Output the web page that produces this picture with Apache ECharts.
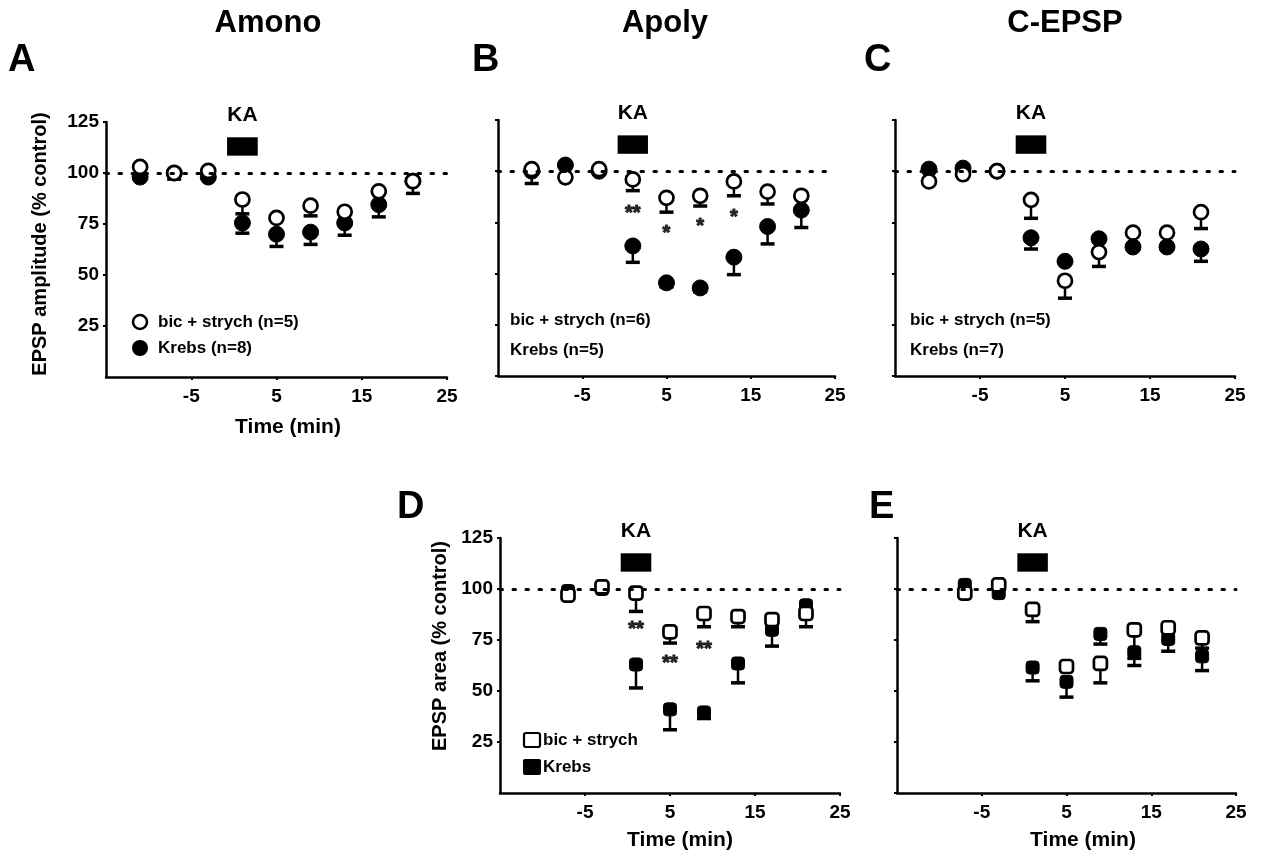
<!DOCTYPE html>
<html>
<head>
<meta charset="utf-8">
<script src="https://cdn.jsdelivr.net/npm/echarts@6/dist/echarts.min.js"></script>
<style>
  html, body { margin: 0; padding: 0; background: #fff; }
  #chart { width: 1263px; height: 862px; }
</style>
</head>
<body>
<div id="chart"></div>
<script>
// time points (min)
const timesABC = [-11, -7, -3, 1, 5, 9, 13, 17, 21];
const timesDE = [-7, -3, 1, 5, 9, 13, 17, 21];

const xTicks = [-15, 25, 10];   // min, max, interval
const yTicks = [0, 125, 25];

// KA application bar
const kaTime = [-0.8, 2.8];
const kaLevel = [108.5, 117.5];

// A  Amono  EPSP amplitude
const aBic = [103, 100, 101, 87, 78, 84, 81, 91, 96];
const aBicErr = [0, 3, 0, 7, 0, 5, 0, 0, 6];
const aKrebs = [98, 100, 98, 75.5, 70, 71, 75.5, 84.5, 96];
const aKrebsErr = [0, 0, 0, 5, 6, 6, 6, 6, 0];

// B  Apoly  EPSP amplitude
const bBic = [101, 97, 101, 96, 87, 88, 95, 90, 88];
const bBicErr = [0, 0, 0, 5.5, 7, 5, 7, 6, 0];
const bKrebs = [100, 103, 100, 63.5, 45.5, 43, 58, 73, 81];
const bKrebsErr = [6, 0, 0, 8, 2, 2, 8.5, 8.5, 8.5];
const bSigTimes = [1, 5, 9, 13];
const bSigText = ['**', '*', '*', '*'];
const bSigY = [82, 72, 75.5, 80];

// C  C-EPSP  EPSP amplitude
const cBic = [95, 98.5, 100, 86, 46.5, 60.5, 70, 70, 80];
const cBicErr = [0, 0, 0, 9, 8.5, 7, 0, 0, 8];
const cKrebs = [101, 101.5, 100, 67.5, 56, 67, 63, 63, 62];
const cKrebsErr = [0, 0, 0, 5.5, 0, 0, 0, 0, 6];

// D  Apoly  EPSP area
const dBic = [97, 101, 98, 79, 88, 86.5, 85, 88];
const dBicErr = [0, 0, 9, 5.5, 6.5, 5, 0, 6.5];
const dKrebs = [99, 100, 63, 41, 39.5, 63.5, 80, 92];
const dKrebsErr = [0, 0, 11.5, 10, 3, 9.5, 8, 0];
const dSigTimes = [1, 5, 9];
const dSigText = ['**', '**', '**'];
const dSigY = [82.5, 66, 73];

// E  C-EPSP  EPSP area
const eBic = [98, 102, 90, 62, 63.5, 80, 81, 76];
const eBicErr = [0, 0, 6, 0, 9.5, 14, 0, 5];
const eKrebs = [102, 98, 61.5, 54.5, 78, 69, 75.5, 67];
const eKrebsErr = [0, 0, 6.5, 7.5, 5, 6.5, 6, 7];

const FONT = 'Liberation Sans, Arial, sans-serif';

const chart = echarts.init(document.getElementById('chart'));

const grids = [
  { left: 106, top: 122, width: 341, height: 255 },
  { left: 498, top: 120, width: 337, height: 256 },
  { left: 895, top: 120, width: 340, height: 256 },
  { left: 500, top: 538, width: 340, height: 255 },
  { left: 897, top: 538, width: 339, height: 255 }
];
const yLabelled = [true, false, false, true, false];

function errorBars(i, times, mean, err, z) {
  return {
    type: 'custom',
    xAxisIndex: i,
    yAxisIndex: i,
    z: z,
    silent: true,
    data: times.map((t, k) => [t, mean[k], err[k]]),
    renderItem: (params, api) => {
      const e = api.value(2);
      if (!e) return { type: 'group', children: [] };
      const top = api.coord([api.value(0), api.value(1)]);
      const bot = api.coord([api.value(0), api.value(1) - e]);
      return {
        type: 'group',
        children: [
          { type: 'line', shape: { x1: top[0], y1: top[1], x2: bot[0], y2: bot[1] },
            style: { stroke: '#000', lineWidth: 2.5 } },
          { type: 'line', shape: { x1: bot[0] - 7, y1: bot[1], x2: bot[0] + 7, y2: bot[1] },
            style: { stroke: '#000', lineWidth: 3.5 } }
        ]
      };
    }
  };
}

function points(i, times, mean, open, shape, z) {
  return {
    type: 'scatter',
    xAxisIndex: i,
    yAxisIndex: i,
    z: z,
    symbol: shape,
    symbolSize: shape === 'circle' ? (open ? 14 : 16) : 13,
    itemStyle: open
      ? { color: '#fff', borderColor: '#000', borderWidth: 2.7, opacity: 1 }
      : { color: '#000', borderColor: '#000', borderWidth: 1, opacity: 1 },
    data: times.map((t, k) => [t, mean[k]])
  };
}

function stars(i, times, ys, texts) {
  return {
    type: 'scatter',
    xAxisIndex: i,
    yAxisIndex: i,
    symbolSize: 0,
    z: 5,
    label: {
      show: true,
      position: 'inside',
      formatter: p => p.name,
      fontFamily: FONT,
      fontWeight: 'bold',
      fontSize: 20,
      color: '#000',
      textBorderColor: '#000',
      textBorderWidth: 1,
      offset: [0, 5]
    },
    data: times.map((t, k) => ({ name: texts[k], value: [t, ys[k]] }))
  };
}

function baseline(i) {
  // dotted 100 % line and KA bar, carried on an empty series
  return {
    type: 'scatter',
    xAxisIndex: i,
    yAxisIndex: i,
    data: [],
    markLine: {
      silent: true,
      symbol: 'none',
      label: { show: false },
      lineStyle: { color: '#000', type: [2.5, 10.5], width: 3, cap: 'round' },
      data: [{ yAxis: 100 }]
    },
    markArea: {
      silent: true,
      itemStyle: { color: '#000' },
      label: {
        show: true,
        position: 'top',
        distance: 12,
        formatter: 'KA',
        fontFamily: FONT,
        fontWeight: 'bold',
        fontSize: 21,
        color: '#000'
      },
      data: [[{ coord: [kaTime[0], kaLevel[0]] }, { coord: [kaTime[1], kaLevel[1]] }]]
    }
  };
}

const panels = [
  [timesABC, aBic, aBicErr, aKrebs, aKrebsErr, 'circle'],
  [timesABC, bBic, bBicErr, bKrebs, bKrebsErr, 'circle'],
  [timesABC, cBic, cBicErr, cKrebs, cKrebsErr, 'circle'],
  [timesDE, dBic, dBicErr, dKrebs, dKrebsErr, 'roundRect'],
  [timesDE, eBic, eBicErr, eKrebs, eKrebsErr, 'roundRect']
];

const series = [];
panels.forEach((p, i) => {
  const [t, bic, bicErr, krebs, krebsErr, shape] = p;
  series.push(baseline(i));
  series.push(errorBars(i, t, krebs, krebsErr, 2));
  series.push(errorBars(i, t, bic, bicErr, 2));
  series.push(points(i, t, krebs, false, shape, 3));
  series.push(points(i, t, bic, true, shape, 4));
});
series.push(stars(1, bSigTimes, bSigY, bSigText));
series.push(stars(3, dSigTimes, dSigY, dSigText));

const xAxes = grids.map((g, i) => ({
  type: 'value',
  gridIndex: i,
  min: xTicks[0],
  max: xTicks[1],
  interval: xTicks[2],
  axisLine: { show: true, onZero: false, lineStyle: { color: '#000', width: 2.5 } },
  axisTick: { show: true, length: 3, lineStyle: { color: '#000', width: 2 } },
  axisLabel: {
    showMinLabel: false,
    margin: 10,
    color: '#000',
    fontFamily: FONT,
    fontWeight: 'bold',
    fontSize: 19
  },
  splitLine: { show: false }
}));

const yAxes = grids.map((g, i) => ({
  type: 'value',
  gridIndex: i,
  min: yTicks[0],
  max: yTicks[1],
  interval: yTicks[2],
  axisLine: { show: true, onZero: false, lineStyle: { color: '#000', width: 2.5 } },
  axisTick: { show: true, length: 3, lineStyle: { color: '#000', width: 2 } },
  axisLabel: {
    show: yLabelled[i],
    showMinLabel: false,
    margin: 7,
    color: '#000',
    fontFamily: FONT,
    fontWeight: 'bold',
    fontSize: 19
  },
  splitLine: { show: false }
}));

function txt(text, x, y, size, extra) {
  return Object.assign({
    type: 'text',
    x: x,
    y: y,
    silent: true,
    style: {
      text: text,
      fill: '#000',
      fontFamily: FONT,
      fontWeight: 'bold',
      fontSize: size,
      align: 'center',
      verticalAlign: 'middle',
      textAlign: 'center',
      textVerticalAlign: 'middle'
    }
  }, extra || {});
}

function leftTxt(text, x, y, size) {
  const t = txt(text, x, y, size);
  t.style.align = 'left';
  t.style.textAlign = 'left';
  return t;
}

const graphic = [
  txt('Amono', 268, 23, 31),
  txt('Apoly', 665, 23, 31),
  txt('C-EPSP', 1065, 23, 31),
  leftTxt('A', 8, 61, 38),
  leftTxt('B', 472, 61, 38),
  leftTxt('C', 864, 61, 38),
  leftTxt('D', 397, 508, 38),
  leftTxt('E', 869, 508, 38),
  txt('EPSP amplitude (% control)', 40, 244, 20, { rotation: Math.PI / 2 }),
  txt('EPSP area (% control)', 440, 646, 20, { rotation: Math.PI / 2 }),
  txt('Time (min)', 288, 427, 21),
  txt('Time (min)', 680, 840, 21),
  txt('Time (min)', 1083, 840, 21),
  // legend A
  { type: 'circle', shape: { cx: 140, cy: 322, r: 7 }, style: { fill: '#fff', stroke: '#000', lineWidth: 2.5 } },
  { type: 'circle', shape: { cx: 140, cy: 348, r: 8 }, style: { fill: '#000' } },
  leftTxt('bic + strych (n=5)', 158, 322, 17),
  leftTxt('Krebs (n=8)', 158, 348, 17),
  // legend B
  leftTxt('bic + strych (n=6)', 510, 320, 17),
  leftTxt('Krebs (n=5)', 510, 350, 17),
  // legend C
  leftTxt('bic + strych (n=5)', 910, 320, 17),
  leftTxt('Krebs (n=7)', 910, 350, 17),
  // legend D
  { type: 'rect', shape: { x: 524, y: 733, width: 16, height: 14, r: 2 }, style: { fill: '#fff', stroke: '#000', lineWidth: 2.2 } },
  { type: 'rect', shape: { x: 523, y: 759, width: 18, height: 16, r: 2 }, style: { fill: '#000' } },
  leftTxt('bic + strych', 543, 740, 17),
  leftTxt('Krebs', 543, 767, 17)
];

chart.setOption({
  animation: false,
  backgroundColor: '#fff',
  grid: grids,
  xAxis: xAxes,
  yAxis: yAxes,
  graphic: graphic,
  series: series
});
</script>
</body>
</html>
